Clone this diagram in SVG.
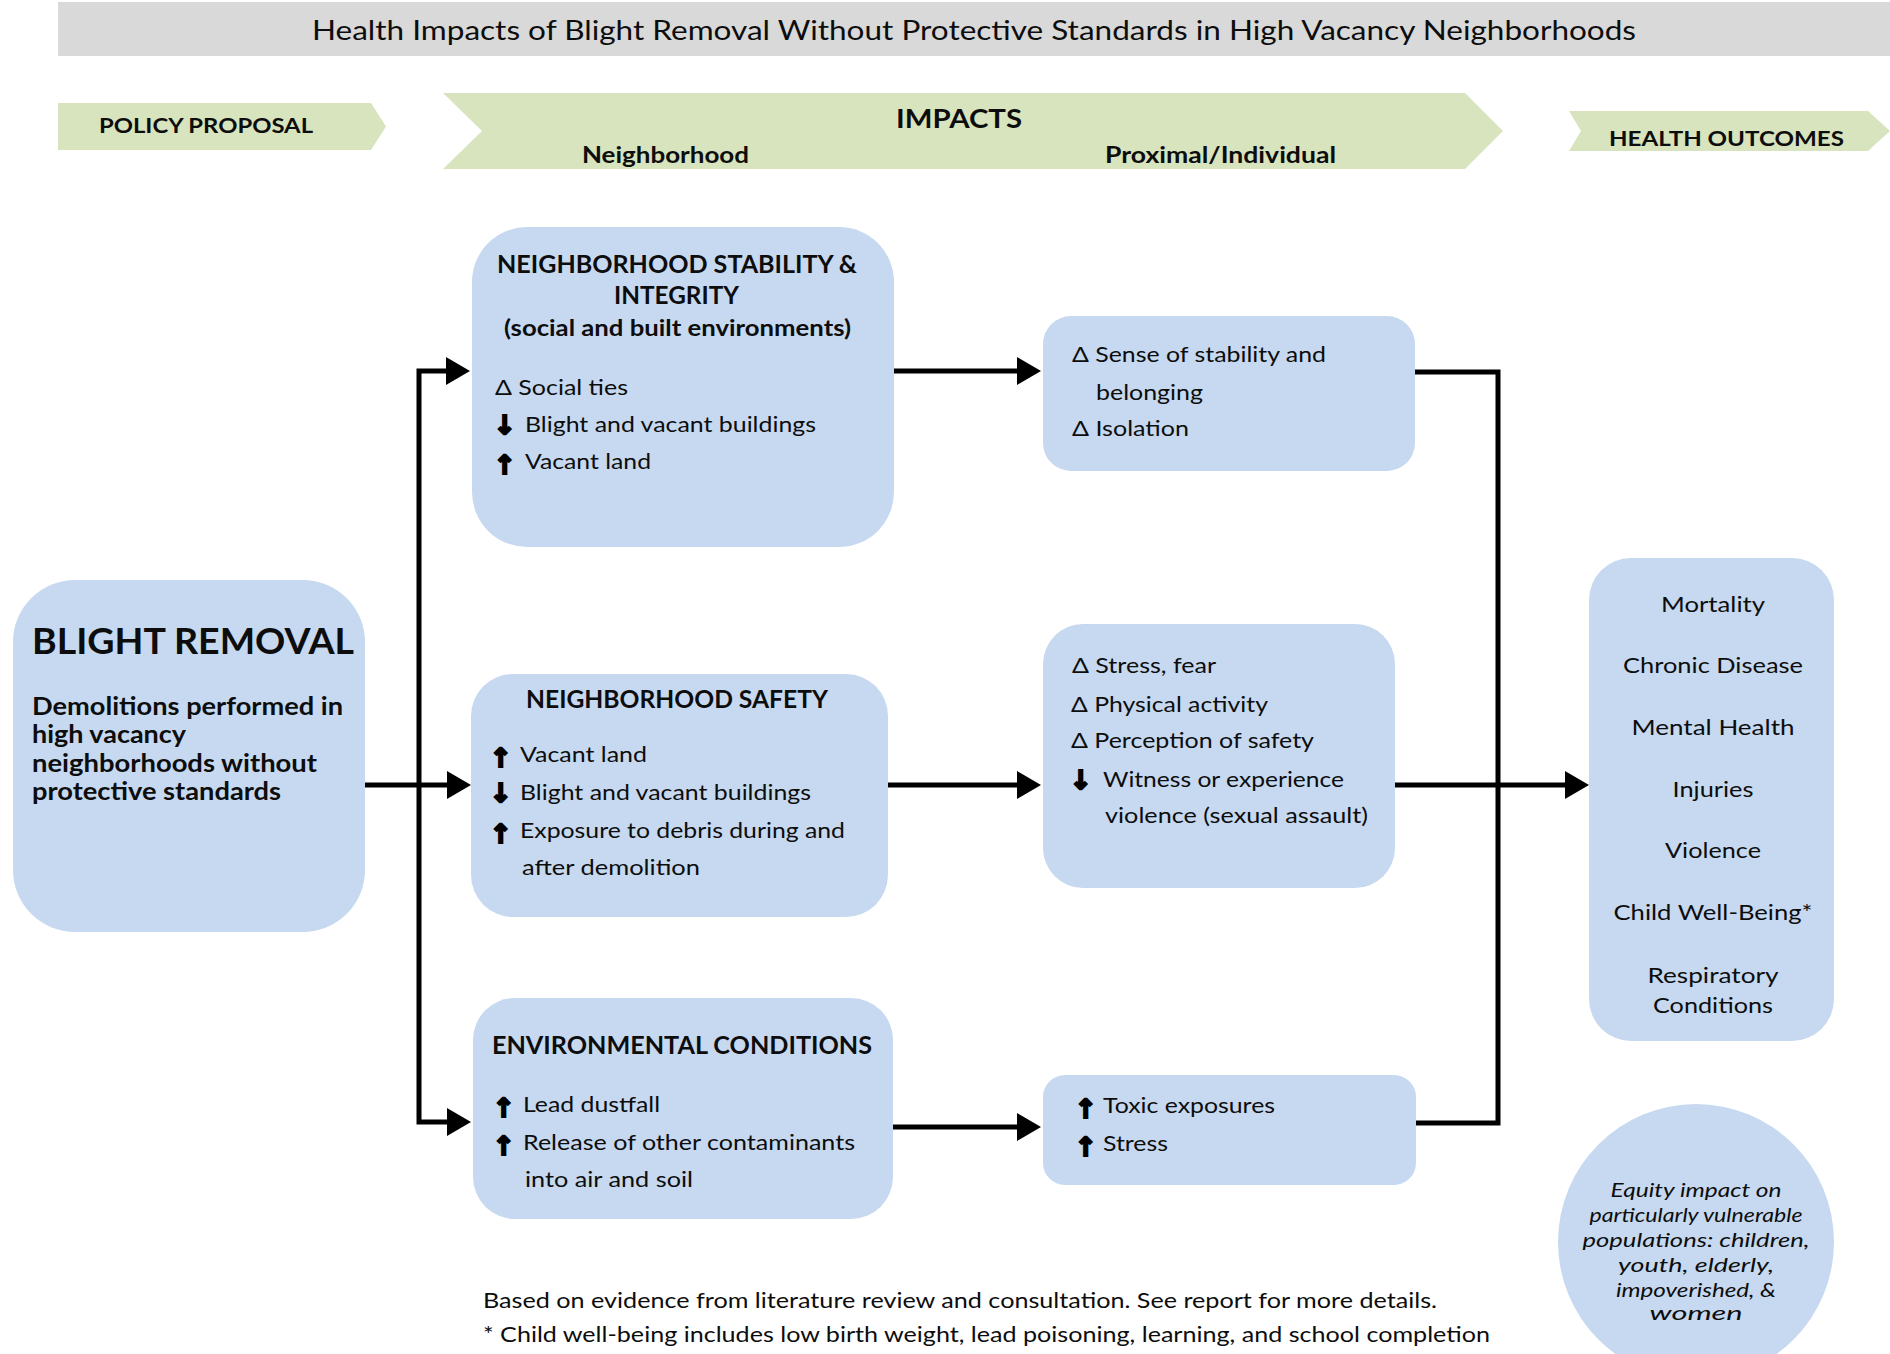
<svg xmlns="http://www.w3.org/2000/svg" width="1890" height="1354" viewBox="0 0 1890 1354">
<defs>
<style>
.t{font-family:Lato,"Liberation Sans",sans-serif;fill:#0d0d0d}
.b{font-weight:bold}
.i{font-style:italic}
.box{fill:#c6d9f0}
.band{fill:#d7e4bd}
.sym{font-family:"DejaVu Sans",sans-serif;font-weight:bold;font-size:26px;stroke:#000;stroke-width:2.2;fill:#000}
.conn{fill:none;stroke:#000;stroke-width:5}
</style>
<marker id="ah" markerUnits="userSpaceOnUse" viewBox="0 0 24 28" refX="12" refY="14" markerWidth="24" markerHeight="28" orient="auto">
<path d="M0,0 L24,14 L0,28 z" fill="#000"/>
</marker>
</defs>
<rect width="1890" height="1354" fill="#fff"/>

<g id="title">
<rect x="58" y="2" width="1832" height="54" fill="#d9d9d9"/>
<text class="t" x="312" y="40" font-size="27" textLength="1324" lengthAdjust="spacingAndGlyphs">Health Impacts of Blight Removal Without Protective Standards in High Vacancy Neighborhoods</text>
</g>

<g id="policy-proposal">
<polygon class="band" points="58,103 371,103 386,126.5 371,150 58,150"/>
<text class="t b" x="99" y="133" font-size="20" textLength="214" lengthAdjust="spacingAndGlyphs">POLICY PROPOSAL</text>
</g>

<g id="impacts">
<polygon class="band" points="443,93 1465,93 1503,131 1465,169 443,169 482,131"/>
<text class="t b" x="896" y="128" font-size="26" textLength="126" lengthAdjust="spacingAndGlyphs">IMPACTS</text>
<text class="t b" x="582" y="163" font-size="22" textLength="167" lengthAdjust="spacingAndGlyphs">Neighborhood</text>
<text class="t b" x="1105" y="163" font-size="22" textLength="231" lengthAdjust="spacingAndGlyphs">Proximal/Individual</text>
</g>

<g id="health-outcomes-header">
<polygon class="band" points="1569,111 1868,111 1890,131 1868,151 1569,151 1581,131"/>
<text class="t b" x="1609" y="146" font-size="20" textLength="235" lengthAdjust="spacingAndGlyphs">HEALTH OUTCOMES</text>
</g>

<g id="connectors">
<path class="conn" d="M365,785 H459" marker-end="url(#ah)"/>
<path class="conn" d="M419,787 V371 H458" marker-end="url(#ah)"/>
<path class="conn" d="M419,783 V1122 H459" marker-end="url(#ah)"/>
<path class="conn" d="M894,371 H1029" marker-end="url(#ah)"/>
<path class="conn" d="M888,785 H1029" marker-end="url(#ah)"/>
<path class="conn" d="M893,1127 H1029" marker-end="url(#ah)"/>
<path class="conn" d="M1415,372 H1498 V1123 H1416"/>
<path class="conn" d="M1395,785 H1577" marker-end="url(#ah)"/>
</g>

<g id="blight-removal">
<rect class="box" x="13" y="580" width="352" height="352" rx="62"/>
<text class="t b" x="32" y="654" font-size="36" textLength="322" lengthAdjust="spacingAndGlyphs">BLIGHT REMOVAL</text>
<text class="t b" x="32" y="715" font-size="24" textLength="311" lengthAdjust="spacingAndGlyphs">Demolitions performed in</text>
<text class="t b" x="32" y="743" font-size="24" textLength="154" lengthAdjust="spacingAndGlyphs">high vacancy</text>
<text class="t b" x="32" y="772" font-size="24" textLength="285" lengthAdjust="spacingAndGlyphs">neighborhoods without</text>
<text class="t b" x="32" y="800" font-size="24" textLength="249" lengthAdjust="spacingAndGlyphs">protective standards</text>
</g>

<g id="neighborhood-stability">
<rect class="box" x="472" y="227" width="422" height="320" rx="55"/>
<text class="t b" x="497" y="273" font-size="24" textLength="360" lengthAdjust="spacingAndGlyphs">NEIGHBORHOOD STABILITY &amp;</text>
<text class="t b" x="614" y="304" font-size="24" textLength="125" lengthAdjust="spacingAndGlyphs">INTEGRITY</text>
<text class="t b" x="504" y="336" font-size="22" textLength="347" lengthAdjust="spacingAndGlyphs">(social and built environments)</text>
<text class="t" x="495" y="395" font-size="22" textLength="133" lengthAdjust="spacingAndGlyphs">Δ Social ties</text>
<text class="t"><tspan class="sym" x="494" y="434">↓ </tspan><tspan x="525" y="432" font-size="22" textLength="291" lengthAdjust="spacingAndGlyphs">Blight and vacant buildings</tspan></text>
<text class="t"><tspan class="sym" x="494" y="474">↑ </tspan><tspan x="525" y="469" font-size="22" textLength="126" lengthAdjust="spacingAndGlyphs">Vacant land</tspan></text>
</g>

<g id="neighborhood-safety">
<rect class="box" x="471" y="674" width="417" height="243" rx="42"/>
<text class="t b" x="526" y="708" font-size="24" textLength="302" lengthAdjust="spacingAndGlyphs">NEIGHBORHOOD SAFETY</text>
<text class="t"><tspan class="sym" x="490" y="767">↑ </tspan><tspan x="520" y="762" font-size="22" textLength="127" lengthAdjust="spacingAndGlyphs">Vacant land</tspan></text>
<text class="t"><tspan class="sym" x="490" y="802">↓ </tspan><tspan x="520" y="800" font-size="22" textLength="291" lengthAdjust="spacingAndGlyphs">Blight and vacant buildings</tspan></text>
<text class="t"><tspan class="sym" x="490" y="843">↑ </tspan><tspan x="520" y="838" font-size="22" textLength="325" lengthAdjust="spacingAndGlyphs">Exposure to debris during and</tspan></text>
<text class="t" x="522" y="875" font-size="22" textLength="178" lengthAdjust="spacingAndGlyphs">after demolition</text>
</g>

<g id="environmental-conditions">
<rect class="box" x="473" y="998" width="420" height="221" rx="42"/>
<text class="t b" x="492" y="1054" font-size="24" textLength="380" lengthAdjust="spacingAndGlyphs">ENVIRONMENTAL CONDITIONS</text>
<text class="t"><tspan class="sym" x="493" y="1117">↑ </tspan><tspan x="523" y="1112" font-size="22" textLength="137" lengthAdjust="spacingAndGlyphs">Lead dustfall</tspan></text>
<text class="t"><tspan class="sym" x="493" y="1155">↑ </tspan><tspan x="523" y="1150" font-size="22" textLength="332" lengthAdjust="spacingAndGlyphs">Release of other contaminants</tspan></text>
<text class="t" x="525" y="1187" font-size="22" textLength="168" lengthAdjust="spacingAndGlyphs">into air and soil</text>
</g>

<g id="sense-of-stability">
<rect class="box" x="1043" y="316" width="372" height="155" rx="28"/>
<text class="t" x="1072" y="362" font-size="22" textLength="254" lengthAdjust="spacingAndGlyphs">Δ Sense of stability and</text>
<text class="t" x="1096" y="400" font-size="22" textLength="107" lengthAdjust="spacingAndGlyphs">belonging</text>
<text class="t" x="1072" y="436" font-size="22" textLength="117" lengthAdjust="spacingAndGlyphs">Δ Isolation</text>
</g>

<g id="stress-fear">
<rect class="box" x="1043" y="624" width="352" height="264" rx="40"/>
<text class="t" x="1072" y="673" font-size="22" textLength="144" lengthAdjust="spacingAndGlyphs">Δ Stress, fear</text>
<text class="t" x="1071" y="712" font-size="22" textLength="197" lengthAdjust="spacingAndGlyphs">Δ Physical activity</text>
<text class="t" x="1071" y="748" font-size="22" textLength="243" lengthAdjust="spacingAndGlyphs">Δ Perception of safety</text>
<text class="t"><tspan class="sym" x="1070" y="789">↓ </tspan><tspan x="1103" y="787" font-size="22" textLength="241" lengthAdjust="spacingAndGlyphs">Witness or experience</tspan></text>
<text class="t" x="1105" y="823" font-size="22" textLength="263" lengthAdjust="spacingAndGlyphs">violence (sexual assault)</text>
</g>

<g id="toxic-exposures">
<rect class="box" x="1043" y="1075" width="373" height="110" rx="22"/>
<text class="t"><tspan class="sym" x="1075" y="1118">↑ </tspan><tspan x="1103" y="1113" font-size="22" textLength="172" lengthAdjust="spacingAndGlyphs">Toxic exposures</tspan></text>
<text class="t"><tspan class="sym" x="1075" y="1156">↑ </tspan><tspan x="1103" y="1151" font-size="22" textLength="65" lengthAdjust="spacingAndGlyphs">Stress</tspan></text>
</g>

<g id="health-outcomes">
<rect class="box" x="1589" y="558" width="245" height="483" rx="42"/>
<g class="t" font-size="22" text-anchor="middle">
<text x="1713" y="612" textLength="104" lengthAdjust="spacingAndGlyphs">Mortality</text>
<text x="1713" y="673" textLength="180" lengthAdjust="spacingAndGlyphs">Chronic Disease</text>
<text x="1713" y="735" textLength="163" lengthAdjust="spacingAndGlyphs">Mental Health</text>
<text x="1713" y="797" textLength="81" lengthAdjust="spacingAndGlyphs">Injuries</text>
<text x="1713" y="858" textLength="96" lengthAdjust="spacingAndGlyphs">Violence</text>
<text x="1713" y="920" textLength="199" lengthAdjust="spacingAndGlyphs">Child Well-Being*</text>
<text x="1713" y="983" textLength="131" lengthAdjust="spacingAndGlyphs">Respiratory</text>
<text x="1713" y="1013" textLength="120" lengthAdjust="spacingAndGlyphs">Conditions</text>
</g>
</g>

<g id="equity-impact">
<circle class="box" cx="1696" cy="1242" r="138"/>
<g class="t i" font-size="19" text-anchor="middle">
<text x="1696" y="1197" textLength="171" lengthAdjust="spacingAndGlyphs">Equity impact on</text>
<text x="1696" y="1222" textLength="213" lengthAdjust="spacingAndGlyphs">particularly vulnerable</text>
<text x="1696" y="1247" textLength="227" lengthAdjust="spacingAndGlyphs">populations: children,</text>
<text x="1696" y="1272" textLength="156" lengthAdjust="spacingAndGlyphs">youth, elderly,</text>
<text x="1696" y="1297" textLength="160" lengthAdjust="spacingAndGlyphs">impoverished, &amp;</text>
<text x="1696" y="1320" textLength="93" lengthAdjust="spacingAndGlyphs">women</text>
</g>
</g>

<g id="footnotes">
<text class="t" x="483" y="1308" font-size="21" textLength="954" lengthAdjust="spacingAndGlyphs">Based on evidence from literature review and consultation. See report for more details.</text>
<text class="t" x="483" y="1342" font-size="21" textLength="1007" lengthAdjust="spacingAndGlyphs">* Child well-being includes low birth weight, lead poisoning, learning, and school completion</text>
</g>
</svg>
